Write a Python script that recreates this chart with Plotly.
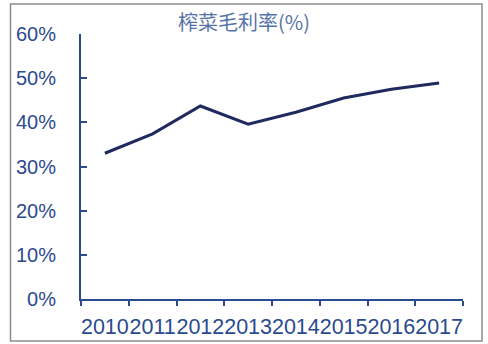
import plotly.graph_objects as go

years = ["2010", "2011", "2012", "2013", "2014", "2015", "2016", "2017"]
margin_pct = [33.0, 37.4, 43.7, 39.6, 42.3, 45.5, 47.5, 48.9]
y_ticks = [0, 10, 20, 30, 40, 50, 60]
y_tick_text = ["0%", "10%", "20%", "30%", "40%", "50%", "60%"]
title_text = "榨菜毛利率(%)"

axis_color = "#2B4A8F"
line_color = "#1F2B5E"

fig = go.Figure()
fig.add_trace(go.Scatter(
    x=years, y=margin_pct, mode="lines",
    line=dict(color=line_color, width=3),
    showlegend=False,
))

L, R, T, B = 81, 25, 34, 45
W, H = 488, 344
pw = W - L - R
ph = H - T - B

fig.update_layout(
    width=W, height=H,
    margin=dict(l=L, r=R, t=T, b=B, autoexpand=False),
    paper_bgcolor="white", plot_bgcolor="white",
    title=dict(text=title_text, x=0.5, xref="container", xanchor="center",
               y=1 - 23 / H, yref="container", yanchor="middle",
               font=dict(family="Noto Sans CJK SC, Liberation Sans, Arial", size=20, color="#5573A8")),
    font=dict(family="Liberation Sans, Arial", color=axis_color),
)
fig.update_xaxes(
    type="category", range=[-0.5, 7.5], showline=True, linecolor=axis_color, linewidth=2,
    ticks="outside", tickson="boundaries", ticklen=5, tickwidth=2, tickcolor=axis_color,
    showgrid=False, zeroline=False, tickangle=0, automargin=False, ticklabelstandoff=7,
    tickfont=dict(size=21.5, color=axis_color), fixedrange=True,
)
fig.update_yaxes(
    range=[0, 60], tickvals=y_ticks, ticktext=y_tick_text,
    showline=True, linecolor=axis_color, linewidth=2,
    ticks="inside", ticklen=6, tickwidth=2, tickcolor=axis_color,
    showgrid=False, zeroline=False, ticklabelstandoff=19, automargin=False,
    tickfont=dict(size=20, color=axis_color), fixedrange=True,
)

# outer frame
x0 = (10.5 - L) / pw
x1 = (482 - L) / pw
y1 = (H - B - 4) / ph
y0 = (H - B - 341) / ph
fig.add_shape(type="rect", xref="paper", yref="paper", x0=x0, x1=x1, y0=y0, y1=y1,
              line=dict(color="#8C8C8C", width=1.5), fillcolor="rgba(0,0,0,0)", layer="below")

fig.write_html("out.html")
